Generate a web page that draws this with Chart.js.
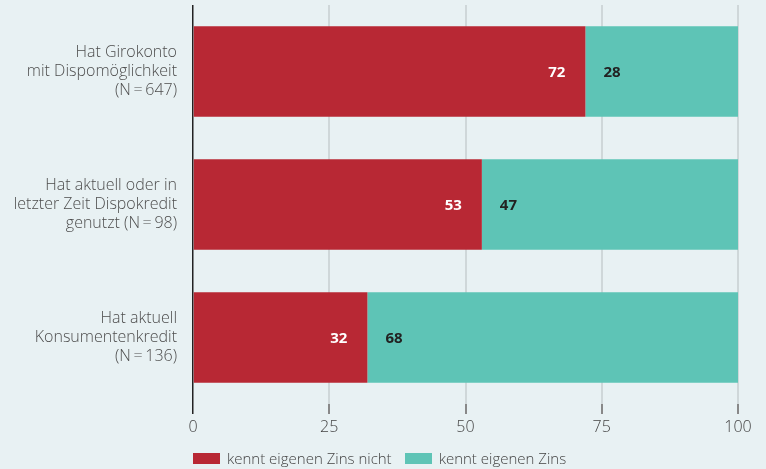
<!DOCTYPE html>
<html>
<head>
<meta charset="utf-8">
<script src="https://cdn.jsdelivr.net/npm/chart.js@4"></script>
<style>
  body { margin: 0; background: #e8f1f3; }
  #wrap { position: relative; width: 766px; height: 469px; }
  #legend { position: absolute; left: 193px; top: 448px; font-family: "Open Sans", sans-serif; font-weight: 300; font-size: 15px; color: #444; display: flex; }
  #legend span.item { display: flex; align-items: center; margin-right: 13px; }
  #legend span.box { display: inline-block; width: 27px; height: 11px; margin-right: 7px; }
</style>
</head>
<body>
<div id="wrap">
  <canvas id="zinsChart"></canvas>
  <div id="legend"></div>
</div>
<script>
const categories = [
  ['Hat Girokonto', 'mit Dispomöglichkeit', '(N\u2009=\u2009647)'],
  ['Hat aktuell oder in', 'letzter Zeit Dispokredit', 'genutzt (N\u2009=\u200998)'],
  ['Hat aktuell', 'Konsumentenkredit', '(N\u2009=\u2009136)']
];
const kenntNicht = [72, 53, 32];
const kennt = [28, 47, 68];
const seriesNames = ['kennt eigenen Zins nicht', 'kennt eigenen Zins'];
const colors = ['#b82834', '#5ec4b6'];

const valueLabels = {
  id: 'valueLabels',
  afterDatasetsDraw(chart) {
    const ctx = chart.ctx;
    ctx.save();
    ctx.font = 'bold 15px "Open Sans", sans-serif';
    ctx.textBaseline = 'middle';
    chart.data.datasets.forEach((ds, i) => {
      chart.getDatasetMeta(i).data.forEach((bar, j) => {
        if (i == 0) {
          ctx.fillStyle = '#ffffff';
          ctx.textAlign = 'right';
          ctx.fillText(ds.data[j], bar.x - 20, bar.y + 1);
        } else {
          ctx.fillStyle = '#222222';
          ctx.textAlign = 'left';
          ctx.fillText(ds.data[j], bar.base + 18, bar.y + 1);
        }
      });
    });
    ctx.restore();
  }
};

const config = {
  type: 'bar',
  data: {
    labels: categories,
    datasets: [
      { label: seriesNames[0], data: kenntNicht, backgroundColor: colors[0], barPercentage: 0.68, categoryPercentage: 1 },
      { label: seriesNames[1], data: kennt, backgroundColor: colors[1], barPercentage: 0.68, categoryPercentage: 1 }
    ]
  },
  options: {
    indexAxis: 'y',
    responsive: true,
    maintainAspectRatio: false,
    animation: false,
    layout: { padding: { top: 5, right: 28, left: 0, bottom: 0 } },
    plugins: { legend: { display: false }, tooltip: { enabled: false } },
    scales: {
      x: {
        stacked: true,
        min: 0,
        max: 100,
        ticks: { stepSize: 25, color: '#444', padding: 4, font: { family: 'Open Sans', weight: 300, size: 16 } },
        grid: {
          color: c => c.tick && c.tick.value === 0 ? '#222' : '#cfd7d9',
          tickColor: c => c.tick && c.tick.value === 0 ? '#222' : '#888',
          tickLength: 10,
          lineWidth: c => c.tick && c.tick.value === 0 ? 1.5 : 2
        },
        border: { display: false },
        afterFit: s => { s.height = 65; }
      },
      y: {
        stacked: true,
        grid: { display: false },
        border: { display: false },
        ticks: { color: '#4d4d4d', padding: 8, font: { family: 'Open Sans', weight: 300, size: 16, lineHeight: 1.2 } },
        afterFit: s => { s.width = 193; s.paddingTop = 0; s.paddingBottom = 0; }
      }
    }
  },
  plugins: [valueLabels]
};

var zins_chart = new Chart(document.getElementById('zinsChart'), config);

const legend = document.getElementById('legend');
seriesNames.forEach((name, i) => {
  legend.innerHTML += '<span class="item"><span class="box" style="background:' + colors[i] + '"></span>' + name + '</span>';
});
</script>
</body>
</html>
